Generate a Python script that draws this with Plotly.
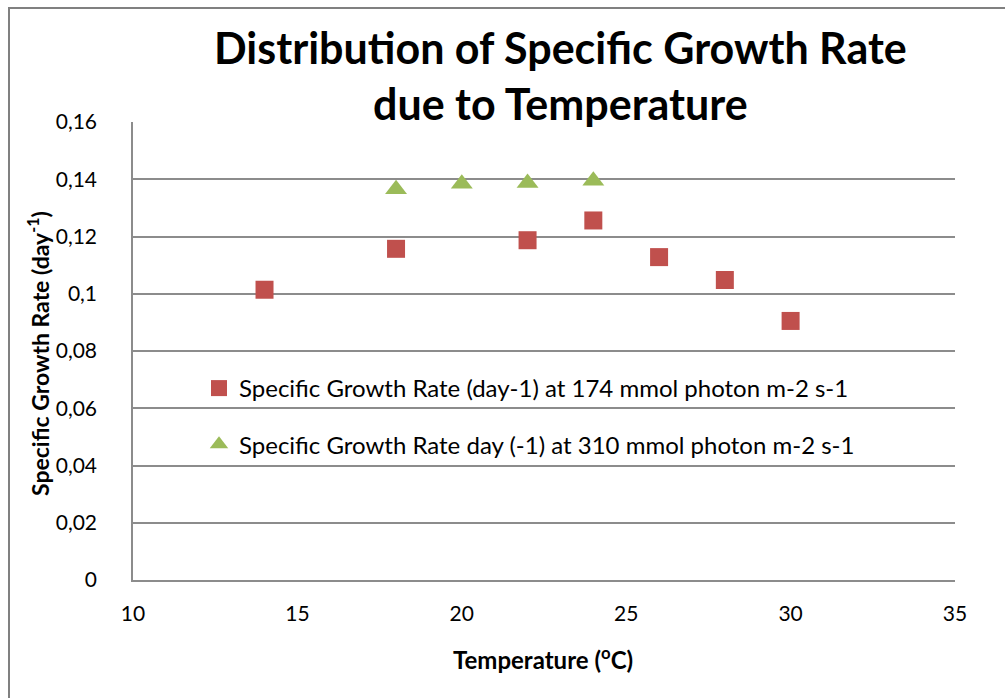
import plotly.graph_objects as go

# Data
temp_174 = [14, 18, 22, 24, 26, 28, 30]
rate_174 = [0.1014, 0.1157, 0.1187, 0.1256, 0.1128, 0.1048, 0.0905]
temp_310 = [18, 20, 22, 24]
rate_310 = [0.1365, 0.1384, 0.1387, 0.1395]

name_174 = "Specific Growth Rate (day-1) at 174 mmol photon m-2 s-1"
name_310 = "Specific Growth Rate day (-1) at 310 mmol photon m-2 s-1"

y_ticks = [0, 0.02, 0.04, 0.06, 0.08, 0.1, 0.12, 0.14, 0.16]
y_ticktext = ["0", "0,02", "0,04", "0,06", "0,08", "0,1", "0,12", "0,14", "0,16"]
x_ticks = [10, 15, 20, 25, 30, 35]

title_lines = ["Distribution of Specific Growth Rate", "due to Temperature"]

FONT = "Lato"
GRID = "#8c8c8c"

fig = go.Figure()
fig.add_trace(go.Scatter(
    x=temp_174, y=rate_174, mode="markers", name=name_174, legendgroup="a",
    marker=dict(symbol="square", size=18, color="#C0504D"),
))
fig.add_trace(go.Scatter(
    x=temp_310, y=rate_310, mode="markers", name=name_310, legendgroup="b",
    marker=dict(symbol="triangle-up", size=19, color="#9BBB59"),
))

W, H = 1005, 698
L, R, T, B = 133, 50, 122, 118
pw, ph = W - L - R, H - T - B

def px(x):
    return (x - L) / pw

def py(y):
    return (H - B - y) / ph

annotations = [
    dict(text=title_lines[0], x=px(560), y=py(47), xref="paper", yref="paper",
         showarrow=False, xanchor="center", yanchor="middle",
         font=dict(family=FONT, size=43, color="black", weight="bold")),
    dict(text=title_lines[1], x=px(560), y=py(103), xref="paper", yref="paper",
         showarrow=False, xanchor="center", yanchor="middle",
         font=dict(family=FONT, size=43, color="black", weight="bold")),
    dict(text="Temperature (<sup>o</sup>C)", x=px(543), y=py(658), xref="paper", yref="paper",
         showarrow=False, xanchor="center", yanchor="middle",
         font=dict(family=FONT, size=24, color="black", weight="bold")),
    dict(text="Specific Growth Rate (day<sup>-1</sup>)", x=px(38), y=py(354), xref="paper", yref="paper",
         showarrow=False, xanchor="center", yanchor="middle", textangle=-90,
         font=dict(family=FONT, size=23, color="black", weight="bold")),
]

fig.update_layout(
    width=W, height=H,
    margin=dict(l=L, r=R, t=T, b=B),
    paper_bgcolor="white", plot_bgcolor="white",
    font=dict(family=FONT, size=20, color="black"),
    showlegend=True,
    legend=dict(x=px(199), y=py(366), xanchor="left", yanchor="top",
                bgcolor="rgba(0,0,0,0)", font=dict(family=FONT, size=24, color="black"),
                tracegroupgap=22, traceorder="grouped"),
    annotations=annotations,
    shapes=[dict(type="rect", xref="paper", yref="paper",
                 x0=px(9), x1=px(1100), y0=py(800), y1=py(8),
                 line=dict(color="#808080", width=2), layer="below")],
)
fig.update_xaxes(range=[10, 35], tickvals=x_ticks, showgrid=False, zeroline=False,
                 showline=True, linecolor=GRID, linewidth=1.5, ticks="",
                 ticklabelstandoff=14, tickfont=dict(family=FONT, size=21, color="black"))
fig.update_yaxes(range=[0, 0.16], tickvals=y_ticks, ticktext=y_ticktext, showgrid=True,
                 gridcolor=GRID, gridwidth=1.5, zeroline=False,
                 showline=True, linecolor=GRID, linewidth=1.5, ticks="",
                 ticklabelstandoff=30, tickfont=dict(family=FONT, size=21, color="black"))

fig.write_html("out.html")
